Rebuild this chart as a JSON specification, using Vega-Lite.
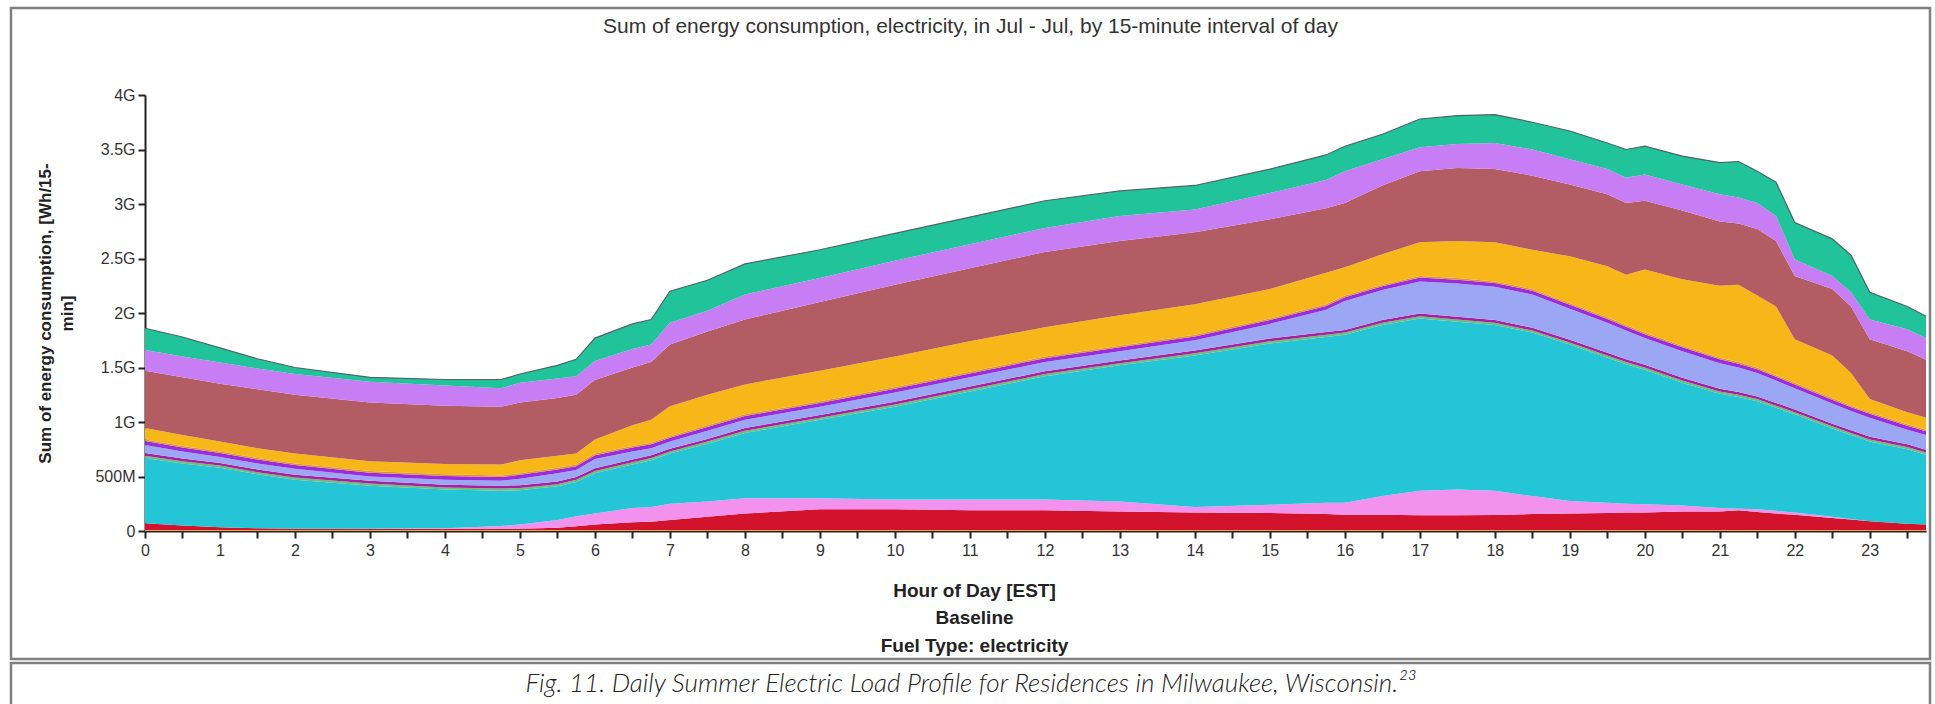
{
"$schema": "https://vega.github.io/schema/vega-lite/v6.json",
"padding": {"left": 9, "top": 6, "right": 7, "bottom": 0},
"spacing": 0,
"config": {"axis": {"grid": false}},
"vconcat": [
{
"width": 1919, "height": 651,
"view": {"stroke": "#808080", "strokeWidth": 2.5},
"title": {"text": "Sum of energy consumption, electricity, in Jul - Jul, by 15-minute interval of day", "offset": -40, "baseline": "middle", "anchor": "middle", "frame": "group", "font": "Liberation Sans", "fontSize": 21, "fontWeight": "normal", "color": "#333333"},
"data": {"values": [
{"t":0,"k":"a","v":0.01},{"t":0,"k":"b","v":0.06},{"t":0,"k":"c","v":0},{"t":0,"k":"d","v":0.6},{"t":0,"k":"e","v":0.02},{"t":0,"k":"f","v":0.025},{"t":0,"k":"g","v":0.075},{"t":0,"k":"h","v":0.035},{"t":0,"k":"i","v":0.015},{"t":0,"k":"j","v":0.105},{"t":0,"k":"k","v":0.525},{"t":0,"k":"l","v":0.19},{"t":0,"k":"m","v":0.2},
{"t":0.5,"k":"a","v":0.01},{"t":0.5,"k":"b","v":0.04},{"t":0.5,"k":"c","v":0},{"t":0.5,"k":"d","v":0.57},{"t":0.5,"k":"e","v":0.02},{"t":0.5,"k":"f","v":0.025},{"t":0.5,"k":"g","v":0.065},{"t":0.5,"k":"h","v":0.035},{"t":0.5,"k":"i","v":0.015},{"t":0.5,"k":"j","v":0.1},{"t":0.5,"k":"k","v":0.53},{"t":0.5,"k":"l","v":0.19},{"t":0.5,"k":"m","v":0.18},
{"t":1,"k":"a","v":0.01},{"t":1,"k":"b","v":0.025},{"t":1,"k":"c","v":0},{"t":1,"k":"d","v":0.545},{"t":1,"k":"e","v":0.02},{"t":1,"k":"f","v":0.025},{"t":1,"k":"g","v":0.055},{"t":1,"k":"h","v":0.035},{"t":1,"k":"i","v":0.015},{"t":1,"k":"j","v":0.09},{"t":1,"k":"k","v":0.53},{"t":1,"k":"l","v":0.195},{"t":1,"k":"m","v":0.135},
{"t":1.5,"k":"a","v":0.01},{"t":1.5,"k":"b","v":0.015},{"t":1.5,"k":"c","v":0},{"t":1.5,"k":"d","v":0.495},{"t":1.5,"k":"e","v":0.02},{"t":1.5,"k":"f","v":0.025},{"t":1.5,"k":"g","v":0.055},{"t":1.5,"k":"h","v":0.035},{"t":1.5,"k":"i","v":0.015},{"t":1.5,"k":"j","v":0.09},{"t":1.5,"k":"k","v":0.54},{"t":1.5,"k":"l","v":0.19},{"t":1.5,"k":"m","v":0.09},
{"t":2,"k":"a","v":0.01},{"t":2,"k":"b","v":0.01},{"t":2,"k":"c","v":0},{"t":2,"k":"d","v":0.45},{"t":2,"k":"e","v":0.02},{"t":2,"k":"f","v":0.025},{"t":2,"k":"g","v":0.055},{"t":2,"k":"h","v":0.035},{"t":2,"k":"i","v":0.015},{"t":2,"k":"j","v":0.09},{"t":2,"k":"k","v":0.54},{"t":2,"k":"l","v":0.19},{"t":2,"k":"m","v":0.06},
{"t":3,"k":"a","v":0.01},{"t":3,"k":"b","v":0.008},{"t":3,"k":"c","v":0.002},{"t":3,"k":"d","v":0.395},{"t":3,"k":"e","v":0.02},{"t":3,"k":"f","v":0.025},{"t":3,"k":"g","v":0.04},{"t":3,"k":"h","v":0.035},{"t":3,"k":"i","v":0.015},{"t":3,"k":"j","v":0.09},{"t":3,"k":"k","v":0.54},{"t":3,"k":"l","v":0.19},{"t":3,"k":"m","v":0.04},
{"t":4,"k":"a","v":0.01},{"t":4,"k":"b","v":0.008},{"t":4,"k":"c","v":0.007},{"t":4,"k":"d","v":0.355},{"t":4,"k":"e","v":0.02},{"t":4,"k":"f","v":0.025},{"t":4,"k":"g","v":0.045},{"t":4,"k":"h","v":0.035},{"t":4,"k":"i","v":0.015},{"t":4,"k":"j","v":0.095},{"t":4,"k":"k","v":0.535},{"t":4,"k":"l","v":0.185},{"t":4,"k":"m","v":0.055},
{"t":4.75,"k":"a","v":0.01},{"t":4.75,"k":"b","v":0.01},{"t":4.75,"k":"c","v":0.025},{"t":4.75,"k":"d","v":0.325},{"t":4.75,"k":"e","v":0.02},{"t":4.75,"k":"f","v":0.025},{"t":4.75,"k":"g","v":0.045},{"t":4.75,"k":"h","v":0.035},{"t":4.75,"k":"i","v":0.015},{"t":4.75,"k":"j","v":0.1},{"t":4.75,"k":"k","v":0.53},{"t":4.75,"k":"l","v":0.17},{"t":4.75,"k":"m","v":0.08},
{"t":5,"k":"a","v":0.01},{"t":5,"k":"b","v":0.01},{"t":5,"k":"c","v":0.04},{"t":5,"k":"d","v":0.315},{"t":5,"k":"e","v":0.02},{"t":5,"k":"f","v":0.025},{"t":5,"k":"g","v":0.06},{"t":5,"k":"h","v":0.035},{"t":5,"k":"i","v":0.015},{"t":5,"k":"j","v":0.12},{"t":5,"k":"k","v":0.53},{"t":5,"k":"l","v":0.18},{"t":5,"k":"m","v":0.08},
{"t":5.5,"k":"a","v":0.01},{"t":5.5,"k":"b","v":0.02},{"t":5.5,"k":"c","v":0.07},{"t":5.5,"k":"d","v":0.31},{"t":5.5,"k":"e","v":0.02},{"t":5.5,"k":"f","v":0.025},{"t":5.5,"k":"g","v":0.075},{"t":5.5,"k":"h","v":0.035},{"t":5.5,"k":"i","v":0.015},{"t":5.5,"k":"j","v":0.11},{"t":5.5,"k":"k","v":0.53},{"t":5.5,"k":"l","v":0.18},{"t":5.5,"k":"m","v":0.12},
{"t":5.75,"k":"a","v":0.01},{"t":5.75,"k":"b","v":0.033},{"t":5.75,"k":"c","v":0.092},{"t":5.75,"k":"d","v":0.315},{"t":5.75,"k":"e","v":0.02},{"t":5.75,"k":"f","v":0.025},{"t":5.75,"k":"g","v":0.065},{"t":5.75,"k":"h","v":0.035},{"t":5.75,"k":"i","v":0.015},{"t":5.75,"k":"j","v":0.1},{"t":5.75,"k":"k","v":0.54},{"t":5.75,"k":"l","v":0.17},{"t":5.75,"k":"m","v":0.155},
{"t":6,"k":"a","v":0.01},{"t":6,"k":"b","v":0.05},{"t":6,"k":"c","v":0.1},{"t":6,"k":"d","v":0.37},{"t":6,"k":"e","v":0.02},{"t":6,"k":"f","v":0.025},{"t":6,"k":"g","v":0.085},{"t":6,"k":"h","v":0.035},{"t":6,"k":"i","v":0.015},{"t":6,"k":"j","v":0.13},{"t":6,"k":"k","v":0.545},{"t":6,"k":"l","v":0.175},{"t":6,"k":"m","v":0.21},
{"t":6.5,"k":"a","v":0.01},{"t":6.5,"k":"b","v":0.07},{"t":6.5,"k":"c","v":0.13},{"t":6.5,"k":"d","v":0.4},{"t":6.5,"k":"e","v":0.02},{"t":6.5,"k":"f","v":0.025},{"t":6.5,"k":"g","v":0.075},{"t":6.5,"k":"h","v":0.035},{"t":6.5,"k":"i","v":0.015},{"t":6.5,"k":"j","v":0.19},{"t":6.5,"k":"k","v":0.53},{"t":6.5,"k":"l","v":0.17},{"t":6.5,"k":"m","v":0.23},
{"t":6.75,"k":"a","v":0.01},{"t":6.75,"k":"b","v":0.075},{"t":6.75,"k":"c","v":0.135},{"t":6.75,"k":"d","v":0.43},{"t":6.75,"k":"e","v":0.02},{"t":6.75,"k":"f","v":0.025},{"t":6.75,"k":"g","v":0.065},{"t":6.75,"k":"h","v":0.035},{"t":6.75,"k":"i","v":0.015},{"t":6.75,"k":"j","v":0.21},{"t":6.75,"k":"k","v":0.53},{"t":6.75,"k":"l","v":0.16},{"t":6.75,"k":"m","v":0.23},
{"t":7,"k":"a","v":0.01},{"t":7,"k":"b","v":0.09},{"t":7,"k":"c","v":0.15},{"t":7,"k":"d","v":0.46},{"t":7,"k":"e","v":0.02},{"t":7,"k":"f","v":0.025},{"t":7,"k":"g","v":0.065},{"t":7,"k":"h","v":0.035},{"t":7,"k":"i","v":0.015},{"t":7,"k":"j","v":0.275},{"t":7,"k":"k","v":0.565},{"t":7,"k":"l","v":0.2},{"t":7,"k":"m","v":0.29},
{"t":7.5,"k":"a","v":0.01},{"t":7.5,"k":"b","v":0.12},{"t":7.5,"k":"c","v":0.14},{"t":7.5,"k":"d","v":0.53},{"t":7.5,"k":"e","v":0.02},{"t":7.5,"k":"f","v":0.025},{"t":7.5,"k":"g","v":0.075},{"t":7.5,"k":"h","v":0.035},{"t":7.5,"k":"i","v":0.015},{"t":7.5,"k":"j","v":0.28},{"t":7.5,"k":"k","v":0.58},{"t":7.5,"k":"l","v":0.19},{"t":7.5,"k":"m","v":0.28},
{"t":8,"k":"a","v":0.01},{"t":8,"k":"b","v":0.15},{"t":8,"k":"c","v":0.14},{"t":8,"k":"d","v":0.6},{"t":8,"k":"e","v":0.02},{"t":8,"k":"f","v":0.025},{"t":8,"k":"g","v":0.075},{"t":8,"k":"h","v":0.035},{"t":8,"k":"i","v":0.015},{"t":8,"k":"j","v":0.275},{"t":8,"k":"k","v":0.595},{"t":8,"k":"l","v":0.23},{"t":8,"k":"m","v":0.28},
{"t":9,"k":"a","v":0.01},{"t":9,"k":"b","v":0.19},{"t":9,"k":"c","v":0.1},{"t":9,"k":"d","v":0.72},{"t":9,"k":"e","v":0.02},{"t":9,"k":"f","v":0.025},{"t":9,"k":"g","v":0.075},{"t":9,"k":"h","v":0.035},{"t":9,"k":"i","v":0.015},{"t":9,"k":"j","v":0.28},{"t":9,"k":"k","v":0.63},{"t":9,"k":"l","v":0.22},{"t":9,"k":"m","v":0.26},
{"t":10,"k":"a","v":0.01},{"t":10,"k":"b","v":0.19},{"t":10,"k":"c","v":0.09},{"t":10,"k":"d","v":0.85},{"t":10,"k":"e","v":0.02},{"t":10,"k":"f","v":0.025},{"t":10,"k":"g","v":0.085},{"t":10,"k":"h","v":0.035},{"t":10,"k":"i","v":0.015},{"t":10,"k":"j","v":0.28},{"t":10,"k":"k","v":0.66},{"t":10,"k":"l","v":0.22},{"t":10,"k":"m","v":0.25},
{"t":11,"k":"a","v":0.01},{"t":11,"k":"b","v":0.18},{"t":11,"k":"c","v":0.1},{"t":11,"k":"d","v":0.99},{"t":11,"k":"e","v":0.02},{"t":11,"k":"f","v":0.025},{"t":11,"k":"g","v":0.085},{"t":11,"k":"h","v":0.035},{"t":11,"k":"i","v":0.015},{"t":11,"k":"j","v":0.28},{"t":11,"k":"k","v":0.67},{"t":11,"k":"l","v":0.22},{"t":11,"k":"m","v":0.25},
{"t":12,"k":"a","v":0.01},{"t":12,"k":"b","v":0.18},{"t":12,"k":"c","v":0.1},{"t":12,"k":"d","v":1.13},{"t":12,"k":"e","v":0.02},{"t":12,"k":"f","v":0.025},{"t":12,"k":"g","v":0.085},{"t":12,"k":"h","v":0.035},{"t":12,"k":"i","v":0.015},{"t":12,"k":"j","v":0.27},{"t":12,"k":"k","v":0.69},{"t":12,"k":"l","v":0.22},{"t":12,"k":"m","v":0.25},
{"t":13,"k":"a","v":0.01},{"t":13,"k":"b","v":0.17},{"t":13,"k":"c","v":0.09},{"t":13,"k":"d","v":1.25},{"t":13,"k":"e","v":0.02},{"t":13,"k":"f","v":0.025},{"t":13,"k":"g","v":0.085},{"t":13,"k":"h","v":0.035},{"t":13,"k":"i","v":0.015},{"t":13,"k":"j","v":0.28},{"t":13,"k":"k","v":0.68},{"t":13,"k":"l","v":0.23},{"t":13,"k":"m","v":0.23},
{"t":14,"k":"a","v":0.01},{"t":14,"k":"b","v":0.16},{"t":14,"k":"c","v":0.05},{"t":14,"k":"d","v":1.39},{"t":14,"k":"e","v":0.02},{"t":14,"k":"f","v":0.025},{"t":14,"k":"g","v":0.095},{"t":14,"k":"h","v":0.035},{"t":14,"k":"i","v":0.015},{"t":14,"k":"j","v":0.28},{"t":14,"k":"k","v":0.66},{"t":14,"k":"l","v":0.21},{"t":14,"k":"m","v":0.22},
{"t":15,"k":"a","v":0.01},{"t":15,"k":"b","v":0.155},{"t":15,"k":"c","v":0.075},{"t":15,"k":"d","v":1.48},{"t":15,"k":"e","v":0.02},{"t":15,"k":"f","v":0.025},{"t":15,"k":"g","v":0.135},{"t":15,"k":"h","v":0.035},{"t":15,"k":"i","v":0.015},{"t":15,"k":"j","v":0.27},{"t":15,"k":"k","v":0.64},{"t":15,"k":"l","v":0.24},{"t":15,"k":"m","v":0.22},
{"t":15.75,"k":"a","v":0.01},{"t":15.75,"k":"b","v":0.145},{"t":15.75,"k":"c","v":0.105},{"t":15.75,"k":"d","v":1.52},{"t":15.75,"k":"e","v":0.02},{"t":15.75,"k":"f","v":0.025},{"t":15.75,"k":"g","v":0.205},{"t":15.75,"k":"h","v":0.035},{"t":15.75,"k":"i","v":0.015},{"t":15.75,"k":"j","v":0.29},{"t":15.75,"k":"k","v":0.59},{"t":15.75,"k":"l","v":0.26},{"t":15.75,"k":"m","v":0.23},
{"t":16,"k":"a","v":0.01},{"t":16,"k":"b","v":0.14},{"t":16,"k":"c","v":0.11},{"t":16,"k":"d","v":1.54},{"t":16,"k":"e","v":0.02},{"t":16,"k":"f","v":0.025},{"t":16,"k":"g","v":0.265},{"t":16,"k":"h","v":0.035},{"t":16,"k":"i","v":0.015},{"t":16,"k":"j","v":0.26},{"t":16,"k":"k","v":0.59},{"t":16,"k":"l","v":0.29},{"t":16,"k":"m","v":0.23},
{"t":16.5,"k":"a","v":0.01},{"t":16.5,"k":"b","v":0.14},{"t":16.5,"k":"c","v":0.17},{"t":16.5,"k":"d","v":1.57},{"t":16.5,"k":"e","v":0.02},{"t":16.5,"k":"f","v":0.025},{"t":16.5,"k":"g","v":0.275},{"t":16.5,"k":"h","v":0.035},{"t":16.5,"k":"i","v":0.015},{"t":16.5,"k":"j","v":0.28},{"t":16.5,"k":"k","v":0.63},{"t":16.5,"k":"l","v":0.24},{"t":16.5,"k":"m","v":0.23},
{"t":17,"k":"a","v":0.01},{"t":17,"k":"b","v":0.135},{"t":17,"k":"c","v":0.225},{"t":17,"k":"d","v":1.58},{"t":17,"k":"e","v":0.02},{"t":17,"k":"f","v":0.025},{"t":17,"k":"g","v":0.295},{"t":17,"k":"h","v":0.035},{"t":17,"k":"i","v":0.015},{"t":17,"k":"j","v":0.31},{"t":17,"k":"k","v":0.65},{"t":17,"k":"l","v":0.22},{"t":17,"k":"m","v":0.26},
{"t":17.5,"k":"a","v":0.01},{"t":17.5,"k":"b","v":0.135},{"t":17.5,"k":"c","v":0.235},{"t":17.5,"k":"d","v":1.54},{"t":17.5,"k":"e","v":0.02},{"t":17.5,"k":"f","v":0.025},{"t":17.5,"k":"g","v":0.305},{"t":17.5,"k":"h","v":0.035},{"t":17.5,"k":"i","v":0.015},{"t":17.5,"k":"j","v":0.34},{"t":17.5,"k":"k","v":0.67},{"t":17.5,"k":"l","v":0.22},{"t":17.5,"k":"m","v":0.26},
{"t":18,"k":"a","v":0.01},{"t":18,"k":"b","v":0.137},{"t":18,"k":"c","v":0.223},{"t":18,"k":"d","v":1.52},{"t":18,"k":"e","v":0.02},{"t":18,"k":"f","v":0.025},{"t":18,"k":"g","v":0.305},{"t":18,"k":"h","v":0.035},{"t":18,"k":"i","v":0.015},{"t":18,"k":"j","v":0.36},{"t":18,"k":"k","v":0.67},{"t":18,"k":"l","v":0.24},{"t":18,"k":"m","v":0.26},
{"t":18.5,"k":"a","v":0.01},{"t":18.5,"k":"b","v":0.145},{"t":18.5,"k":"c","v":0.165},{"t":18.5,"k":"d","v":1.5},{"t":18.5,"k":"e","v":0.02},{"t":18.5,"k":"f","v":0.025},{"t":18.5,"k":"g","v":0.305},{"t":18.5,"k":"h","v":0.035},{"t":18.5,"k":"i","v":0.015},{"t":18.5,"k":"j","v":0.36},{"t":18.5,"k":"k","v":0.68},{"t":18.5,"k":"l","v":0.24},{"t":18.5,"k":"m","v":0.25},
{"t":19,"k":"a","v":0.01},{"t":19,"k":"b","v":0.15},{"t":19,"k":"c","v":0.115},{"t":19,"k":"d","v":1.435},{"t":19,"k":"e","v":0.02},{"t":19,"k":"f","v":0.025},{"t":19,"k":"g","v":0.285},{"t":19,"k":"h","v":0.035},{"t":19,"k":"i","v":0.015},{"t":19,"k":"j","v":0.43},{"t":19,"k":"k","v":0.66},{"t":19,"k":"l","v":0.23},{"t":19,"k":"m","v":0.26},
{"t":19.5,"k":"a","v":0.01},{"t":19.5,"k":"b","v":0.155},{"t":19.5,"k":"c","v":0.095},{"t":19.5,"k":"d","v":1.33},{"t":19.5,"k":"e","v":0.02},{"t":19.5,"k":"f","v":0.025},{"t":19.5,"k":"g","v":0.275},{"t":19.5,"k":"h","v":0.035},{"t":19.5,"k":"i","v":0.015},{"t":19.5,"k":"j","v":0.47},{"t":19.5,"k":"k","v":0.66},{"t":19.5,"k":"l","v":0.23},{"t":19.5,"k":"m","v":0.24},
{"t":19.75,"k":"a","v":0.01},{"t":19.75,"k":"b","v":0.16},{"t":19.75,"k":"c","v":0.08},{"t":19.75,"k":"d","v":1.28},{"t":19.75,"k":"e","v":0.02},{"t":19.75,"k":"f","v":0.025},{"t":19.75,"k":"g","v":0.265},{"t":19.75,"k":"h","v":0.035},{"t":19.75,"k":"i","v":0.015},{"t":19.75,"k":"j","v":0.46},{"t":19.75,"k":"k","v":0.66},{"t":19.75,"k":"l","v":0.23},{"t":19.75,"k":"m","v":0.26},
{"t":20,"k":"a","v":0.01},{"t":20,"k":"b","v":0.16},{"t":20,"k":"c","v":0.075},{"t":20,"k":"d","v":1.235},{"t":20,"k":"e","v":0.02},{"t":20,"k":"f","v":0.025},{"t":20,"k":"g","v":0.245},{"t":20,"k":"h","v":0.035},{"t":20,"k":"i","v":0.015},{"t":20,"k":"j","v":0.58},{"t":20,"k":"k","v":0.63},{"t":20,"k":"l","v":0.24},{"t":20,"k":"m","v":0.26},
{"t":20.5,"k":"a","v":0.01},{"t":20.5,"k":"b","v":0.17},{"t":20.5,"k":"c","v":0.055},{"t":20.5,"k":"d","v":1.125},{"t":20.5,"k":"e","v":0.02},{"t":20.5,"k":"f","v":0.025},{"t":20.5,"k":"g","v":0.245},{"t":20.5,"k":"h","v":0.035},{"t":20.5,"k":"i","v":0.015},{"t":20.5,"k":"j","v":0.61},{"t":20.5,"k":"k","v":0.63},{"t":20.5,"k":"l","v":0.24},{"t":20.5,"k":"m","v":0.26},
{"t":21,"k":"a","v":0.01},{"t":21,"k":"b","v":0.17},{"t":21,"k":"c","v":0.03},{"t":21,"k":"d","v":1.05},{"t":21,"k":"e","v":0.02},{"t":21,"k":"f","v":0.025},{"t":21,"k":"g","v":0.235},{"t":21,"k":"h","v":0.035},{"t":21,"k":"i","v":0.015},{"t":21,"k":"j","v":0.66},{"t":21,"k":"k","v":0.59},{"t":21,"k":"l","v":0.25},{"t":21,"k":"m","v":0.29},
{"t":21.25,"k":"a","v":0.01},{"t":21.25,"k":"b","v":0.18},{"t":21.25,"k":"c","v":0.015},{"t":21.25,"k":"d","v":1.025},{"t":21.25,"k":"e","v":0.02},{"t":21.25,"k":"f","v":0.025},{"t":21.25,"k":"g","v":0.225},{"t":21.25,"k":"h","v":0.035},{"t":21.25,"k":"i","v":0.015},{"t":21.25,"k":"j","v":0.71},{"t":21.25,"k":"k","v":0.56},{"t":21.25,"k":"l","v":0.24},{"t":21.25,"k":"m","v":0.33},
{"t":21.5,"k":"a","v":0.01},{"t":21.5,"k":"b","v":0.165},{"t":21.5,"k":"c","v":0.025},{"t":21.5,"k":"d","v":0.99},{"t":21.5,"k":"e","v":0.02},{"t":21.5,"k":"f","v":0.025},{"t":21.5,"k":"g","v":0.215},{"t":21.5,"k":"h","v":0.035},{"t":21.5,"k":"i","v":0.015},{"t":21.5,"k":"j","v":0.66},{"t":21.5,"k":"k","v":0.61},{"t":21.5,"k":"l","v":0.24},{"t":21.5,"k":"m","v":0.29},
{"t":21.75,"k":"a","v":0.01},{"t":21.75,"k":"b","v":0.15},{"t":21.75,"k":"c","v":0.025},{"t":21.75,"k":"d","v":0.945},{"t":21.75,"k":"e","v":0.02},{"t":21.75,"k":"f","v":0.025},{"t":21.75,"k":"g","v":0.205},{"t":21.75,"k":"h","v":0.035},{"t":21.75,"k":"i","v":0.015},{"t":21.75,"k":"j","v":0.63},{"t":21.75,"k":"k","v":0.6},{"t":21.75,"k":"l","v":0.23},{"t":21.75,"k":"m","v":0.31},
{"t":22,"k":"a","v":0.01},{"t":22,"k":"b","v":0.14},{"t":22,"k":"c","v":0.02},{"t":22,"k":"d","v":0.9},{"t":22,"k":"e","v":0.02},{"t":22,"k":"f","v":0.025},{"t":22,"k":"g","v":0.195},{"t":22,"k":"h","v":0.035},{"t":22,"k":"i","v":0.015},{"t":22,"k":"j","v":0.4},{"t":22,"k":"k","v":0.58},{"t":22,"k":"l","v":0.15},{"t":22,"k":"m","v":0.34},
{"t":22.5,"k":"a","v":0.01},{"t":22.5,"k":"b","v":0.11},{"t":22.5,"k":"c","v":0.01},{"t":22.5,"k":"d","v":0.81},{"t":22.5,"k":"e","v":0.02},{"t":22.5,"k":"f","v":0.025},{"t":22.5,"k":"g","v":0.185},{"t":22.5,"k":"h","v":0.035},{"t":22.5,"k":"i","v":0.015},{"t":22.5,"k":"j","v":0.39},{"t":22.5,"k":"k","v":0.61},{"t":22.5,"k":"l","v":0.12},{"t":22.5,"k":"m","v":0.34},
{"t":22.75,"k":"a","v":0.01},{"t":22.75,"k":"b","v":0.095},{"t":22.75,"k":"c","v":0.005},{"t":22.75,"k":"d","v":0.77},{"t":22.75,"k":"e","v":0.02},{"t":22.75,"k":"f","v":0.025},{"t":22.75,"k":"g","v":0.175},{"t":22.75,"k":"h","v":0.035},{"t":22.75,"k":"i","v":0.015},{"t":22.75,"k":"j","v":0.3},{"t":22.75,"k":"k","v":0.61},{"t":22.75,"k":"l","v":0.13},{"t":22.75,"k":"m","v":0.34},
{"t":23,"k":"a","v":0.01},{"t":23,"k":"b","v":0.08},{"t":23,"k":"c","v":0},{"t":23,"k":"d","v":0.73},{"t":23,"k":"e","v":0.02},{"t":23,"k":"f","v":0.025},{"t":23,"k":"g","v":0.175},{"t":23,"k":"h","v":0.035},{"t":23,"k":"i","v":0.015},{"t":23,"k":"j","v":0.12},{"t":23,"k":"k","v":0.55},{"t":23,"k":"l","v":0.18},{"t":23,"k":"m","v":0.25},
{"t":23.5,"k":"a","v":0.01},{"t":23.5,"k":"b","v":0.057},{"t":23.5,"k":"c","v":0},{"t":23.5,"k":"d","v":0.683},{"t":23.5,"k":"e","v":0.02},{"t":23.5,"k":"f","v":0.025},{"t":23.5,"k":"g","v":0.135},{"t":23.5,"k":"h","v":0.035},{"t":23.5,"k":"i","v":0.015},{"t":23.5,"k":"j","v":0.11},{"t":23.5,"k":"k","v":0.56},{"t":23.5,"k":"l","v":0.2},{"t":23.5,"k":"m","v":0.21},
{"t":23.75,"k":"a","v":0.01},{"t":23.75,"k":"b","v":0.05},{"t":23.75,"k":"c","v":0},{"t":23.75,"k":"d","v":0.64},{"t":23.75,"k":"e","v":0.02},{"t":23.75,"k":"f","v":0.025},{"t":23.75,"k":"g","v":0.135},{"t":23.75,"k":"h","v":0.035},{"t":23.75,"k":"i","v":0.015},{"t":23.75,"k":"j","v":0.11},{"t":23.75,"k":"k","v":0.53},{"t":23.75,"k":"l","v":0.2},{"t":23.75,"k":"m","v":0.2}
]},
"layer": [
{
"mark": {"type": "area", "interpolate": "linear"},
"encoding": {
"x": {"field": "t", "type": "quantitative",
 "scale": {"domain": [0, 23.75], "range": [134, 1915], "nice": false, "zero": false},
 "axis": {
  "values": [0,0.25,0.5,0.75,1,1.25,1.5,1.75,2,2.25,2.5,2.75,3,3.25,3.5,3.75,4,4.25,4.5,4.75,5,5.25,5.5,5.75,6,6.25,6.5,6.75,7,7.25,7.5,7.75,8,8.25,8.5,8.75,9,9.25,9.5,9.75,10,10.25,10.5,10.75,11,11.25,11.5,11.75,12,12.25,12.5,12.75,13,13.25,13.5,13.75,14,14.25,14.5,14.75,15,15.25,15.5,15.75,16,16.25,16.5,16.75,17,17.25,17.5,17.75,18,18.25,18.5,18.75,19,19.25,19.5,19.75,20,20.25,20.5,20.75,21,21.25,21.5,21.75,22,22.25,22.5,22.75,23,23.25,23.5,23.75],
  "labelExpr": "datum.value % 1 === 0 ? format(datum.value, 'd') : ''",
  "offset": -128,
  "domainColor": "#222222", "domainWidth": 2,
  "tickColor": "#222222", "tickWidth": 2, "tickSize": 7,
  "labelFont": "Liberation Sans", "labelFontSize": 16, "labelColor": "#333333", "labelPadding": 4,
  "labelOverlap": false, "labelFlush": false, "labelBound": false,
  "title": ["Hour of Day [EST]", "Baseline", "Fuel Type: electricity"],
  "titleFont": "Liberation Sans", "titleFontSize": 19, "titleFontWeight": "bold", "titleColor": "#222222",
  "titleLineHeight": 27.5, "titleX": 963, "titleY": 50, "titleBaseline": "top", "titleAlign": "center"
 }},
"y": {"field": "v", "type": "quantitative", "stack": "zero",
 "scale": {"domain": [0, 4], "range": [523, 87], "nice": false},
 "axis": {
  "values": [0,0.5,1,1.5,2,2.5,3,3.5,4],
  "labelExpr": "datum.value == 0 ? '0' : datum.value < 1 ? (datum.value * 1000) + 'M' : datum.value + 'G'",
  "offset": -134,
  "domainColor": "#222222", "domainWidth": 2,
  "tickColor": "#222222", "tickWidth": 2, "tickSize": 7,
  "labelFont": "Liberation Sans", "labelFontSize": 16, "labelColor": "#333333", "labelPadding": 3,
  "title": ["Sum of energy consumption, [Wh/15-", "min]"],
  "titleFont": "Liberation Sans", "titleFontSize": 17, "titleFontWeight": "bold", "titleColor": "#222222",
  "titleLineHeight": 22, "titleX": -100, "titleY": 305, "titleAngle": -90, "titleAlign": "center", "titleBaseline": "middle"
 }},
"color": {"field": "k", "type": "nominal", "legend": null,
 "scale": {"domain": ["a","b","c","d","e","f","g","h","i","j","k","l","m"],
  "range": ["#F2A33A","#D3132C","#F292EE","#23C5D6","#6CBF7E","#A8209E","#9CA7F4","#9A2CDF","#E0913C","#F7B719","#B35C64","#C77DF4","#21C39B"]}},
"order": {"field": "k", "sort": "ascending"}
}
},
{
"transform": [{"aggregate": [{"op": "sum", "field": "v", "as": "tot"}], "groupby": ["t"]}],
"mark": {"type": "line", "stroke": "#4f6468", "strokeWidth": 1.2, "interpolate": "linear"},
"encoding": {
"x": {"field": "t", "type": "quantitative"},
"y": {"field": "tot", "type": "quantitative"}
}
}
]
},
{
"width": 1919, "height": 58,
"view": {"stroke": "#808080", "strokeWidth": 2.5},
"data": {"values": [{"caption": "Fig. 11. Daily Summer Electric Load Profile for Residences in Milwaukee, Wisconsin.²³"}]},
"mark": {"type": "text", "font": "Lato", "fontStyle": "italic", "fontWeight": 300, "fontSize": 26, "color": "#222222", "baseline": "alphabetic"},
"encoding": {"text": {"field": "caption", "type": "nominal"}}
}
]
}
